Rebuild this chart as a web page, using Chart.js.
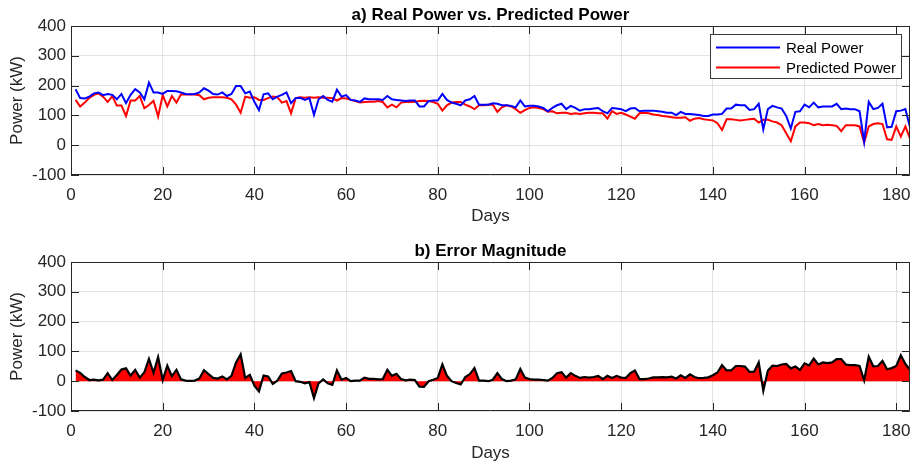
<!DOCTYPE html>
<html><head><meta charset="utf-8">
<script src="https://cdn.jsdelivr.net/npm/chart.js@4/dist/chart.umd.min.js"></script>
<style>
html,body{margin:0;padding:0;background:#fff;}
#wrap{position:relative;width:912px;height:466px;overflow:hidden;}
canvas{position:absolute;left:0;}
</style></head><body>
<div id="wrap">
<canvas id="c1" width="912" height="233" style="top:0"></canvas>
<canvas id="c2" width="912" height="233" style="top:233px"></canvas>
</div>
<script>
// ---- data (kW), one value per day, days 1..183 ----
const realPower = [
188,158,157,163,174,177,168,172,169,154,
172,141,169,188,177,154,210,177,177,172,
182,182,181,177,172,171,172,177,191,183,
172,170,177,165,172,199,199,174,180,146,
118,171,174,154,163,169,177,141,158,159,
152,158,102,154,165,152,146,186,163,168,
152,150,145,157,154,154,154,152,165,154,
152,150,148,150,150,130,130,148,150,150,
172,152,143,139,134,150,154,165,136,136,
136,141,139,134,134,132,127,150,130,132,
132,130,125,114,125,134,139,121,132,125,
116,121,121,123,125,114,107,125,123,121,
114,123,125,114,116,116,116,114,112,109,
109,101,112,105,105,103,101,98,98,103,
103,105,123,123,136,134,134,118,121,139,
53,121,132,127,123,98,56,112,114,136,
127,143,127,130,130,130,139,121,123,121,
121,114,12,145,121,125,139,60,62,114,
116,121,60];
const predictedPower = [
152,130,143,159,169,174,163,145,165,133,
133,98,150,150,165,124,135,149,96,168,
130,165,143,171,170,170,170,168,154,159,
161,161,161,159,154,136,109,163,159,161,
152,152,158,163,161,143,148,107,158,161,
159,161,159,161,159,159,158,150,158,157,
152,148,143,145,146,146,148,145,127,136,
127,143,145,145,146,148,149,148,145,139,
116,134,143,145,145,136,130,121,134,134,
136,136,112,127,134,130,121,109,118,125,
127,125,121,112,114,107,109,109,105,107,
105,107,109,109,107,107,89,114,105,109,
103,96,89,107,109,107,103,101,98,96,
94,92,92,94,82,89,91,87,85,83,
74,51,87,87,85,83,85,87,89,76,
85,85,80,76,67,40,13,63,76,76,
74,67,71,67,69,67,65,47,67,67,
67,63,9,63,71,74,71,20,18,63,
29,63,22];
const errorMagnitude = [
36,28,14,4,5,3,5,27,4,21,
39,43,19,38,12,30,75,28,81,4,
52,17,38,6,2,1,2,9,37,24,
11,9,16,6,18,63,90,11,21,-15,
-34,19,16,-9,2,26,29,34,0,-2,
-7,-3,-57,-7,6,-7,-12,36,5,11,
0,2,2,12,8,8,6,7,38,18,
25,7,3,5,4,-18,-19,0,5,11,
56,18,0,-6,-11,14,24,44,2,2,
0,5,27,7,0,2,6,41,12,7,
5,5,4,2,11,27,30,12,27,18,
11,14,12,14,18,7,18,11,18,12,
11,27,36,7,7,9,13,13,14,13,
15,9,20,11,23,14,10,11,13,20,
29,54,36,36,51,51,49,31,32,63,
-32,36,52,51,56,58,43,49,38,60,
53,76,56,63,61,63,74,74,56,54,
54,51,3,82,50,51,68,40,44,51,
87,58,38];
const xTicks = [0,20,40,60,80,100,120,140,160,180];
const yTicks = [-100,0,100,200,300,400];
const seriesNames = ['Real Power','Predicted Power'];
const titles = ['a) Real Power vs. Predicted Power','b) Error Magnitude'];

const days = realPower.map((_, i) => i + 1);
const pts = arr => arr.map((v, i) => ({x: days[i], y: v}));

const FONT = 'Liberation Sans, Arial, Helvetica, sans-serif';
const AXC = '#262626';
const GRID = 'rgba(38,38,38,0.13)';
const TICKLEN = 8;

const framePlugin = {
  id: 'matlabFrame',
  afterDatasetsDraw(chart, args, opts) {
    const {ctx, chartArea: a, scales} = chart;
    ctx.save();
    ctx.strokeStyle = AXC;
    ctx.lineWidth = 1;
    ctx.beginPath();
    ctx.rect(a.left + 0.5, a.top + 0.5, a.right - a.left - 1, a.bottom - a.top - 1);
    ctx.stroke();
    ctx.beginPath();
    scales.x.ticks.forEach(t => {
      const px = Math.round(scales.x.getPixelForValue(t.value)) + 0.5;
      ctx.moveTo(px, a.bottom); ctx.lineTo(px, a.bottom - TICKLEN);
      ctx.moveTo(px, a.top); ctx.lineTo(px, a.top + TICKLEN);
    });
    scales.y.ticks.forEach(t => {
      const py = Math.round(scales.y.getPixelForValue(t.value)) + 0.5;
      ctx.moveTo(a.left, py); ctx.lineTo(a.left + TICKLEN, py);
      ctx.moveTo(a.right, py); ctx.lineTo(a.right - TICKLEN, py);
    });
    ctx.stroke();
    // title
    ctx.fillStyle = '#000';
    ctx.font = 'bold 17px ' + FONT;
    ctx.textAlign = 'center';
    ctx.textBaseline = 'alphabetic';
    ctx.fillText(opts.text, (a.left + a.right) / 2, a.top - 6);
    ctx.restore();
  }
};

const legendPlugin = {
  id: 'boxLegend',
  afterDraw(chart, args, opts) {
    if (!opts.show) return;
    const {ctx, chartArea: a} = chart;
    const right = a.right - 8, left = a.right - 200, top = a.top + 8, bottom = a.top + 53;
    ctx.save();
    ctx.fillStyle = '#fff';
    ctx.fillRect(left, top, right - left, bottom - top);
    ctx.strokeStyle = '#3a3a3a';
    ctx.lineWidth = 1;
    ctx.strokeRect(left + 0.5, top + 0.5, right - left - 1, bottom - top - 1);
    ctx.font = '15px ' + FONT;
    ctx.textBaseline = 'middle';
    ctx.textAlign = 'left';
    chart.data.datasets.forEach((ds, i) => {
      const y = top + 13.5 + i * 20;
      ctx.strokeStyle = ds.borderColor;
      ctx.lineWidth = 2;
      ctx.beginPath(); ctx.moveTo(left + 6, y); ctx.lineTo(left + 70, y); ctx.stroke();
      ctx.fillStyle = '#000';
      ctx.fillText(ds.label, left + 76, y + 1);
    });
    ctx.restore();
  }
};

function makeOptions(titleText, padTop, xHeight, daysPad, showLegend) {
  const tickFont = {family: FONT, size: 17};
  return {
    responsive: false,
    animation: false,
    devicePixelRatio: 1,
    layout: {padding: {top: padTop, right: 2, left: 0, bottom: 0}},
    plugins: {
      legend: {display: false},
      tooltip: {enabled: false},
      title: {display: false},
      matlabFrame: {text: titleText},
      boxLegend: {show: showLegend}
    },
    elements: {point: {radius: 0}, line: {tension: 0}},
    scales: {
      x: {
        type: 'linear', min: 0, max: 183,
        afterBuildTicks: s => { s.ticks = xTicks.map(v => ({value: v})); },
        afterFit: s => { s.height = xHeight; s.paddingLeft = 0; s.paddingRight = 0; },
        grid: {color: GRID, drawTicks: false, lineWidth: 1},
        border: {display: false},
        ticks: {font: tickFont, color: AXC, padding: 10, maxRotation: 0, autoSkip: false},
        title: {display: true, text: 'Days', font: tickFont, color: AXC, padding: {top: 0, bottom: daysPad}}
      },
      y: {
        min: -100, max: 400,
        afterBuildTicks: s => { s.ticks = yTicks.map(v => ({value: v})); },
        afterFit: s => { s.width = 71; s.paddingTop = 0; s.paddingBottom = 0; },
        grid: {color: GRID, drawTicks: false, lineWidth: 1},
        border: {display: false},
        ticks: {font: tickFont, color: AXC, padding: 5},
        title: {display: true, text: 'Power (kW)', font: tickFont, color: AXC, padding: {top: 7, bottom: 0}}
      }
    }
  };
}

new Chart(document.getElementById('c1'), {
  type: 'line',
  data: {
    datasets: [
      {label: seriesNames[0], data: pts(realPower), borderColor: '#0000ff', borderWidth: 2, fill: false},
      {label: seriesNames[1], data: pts(predictedPower), borderColor: '#ff0000', borderWidth: 2, fill: false}
    ]
  },
  options: makeOptions(titles[0], 26, 58, 6, true),
  plugins: [framePlugin, legendPlugin]
});

new Chart(document.getElementById('c2'), {
  type: 'line',
  data: {
    datasets: [
      {label: 'Error', data: pts(errorMagnitude), borderColor: '#000000', borderWidth: 2.2,
       backgroundColor: '#ff0000', fill: 'origin'}
    ]
  },
  options: makeOptions(titles[1], 29, 55, 2, false),
  plugins: [framePlugin, legendPlugin]
});
</script>
</body></html>
